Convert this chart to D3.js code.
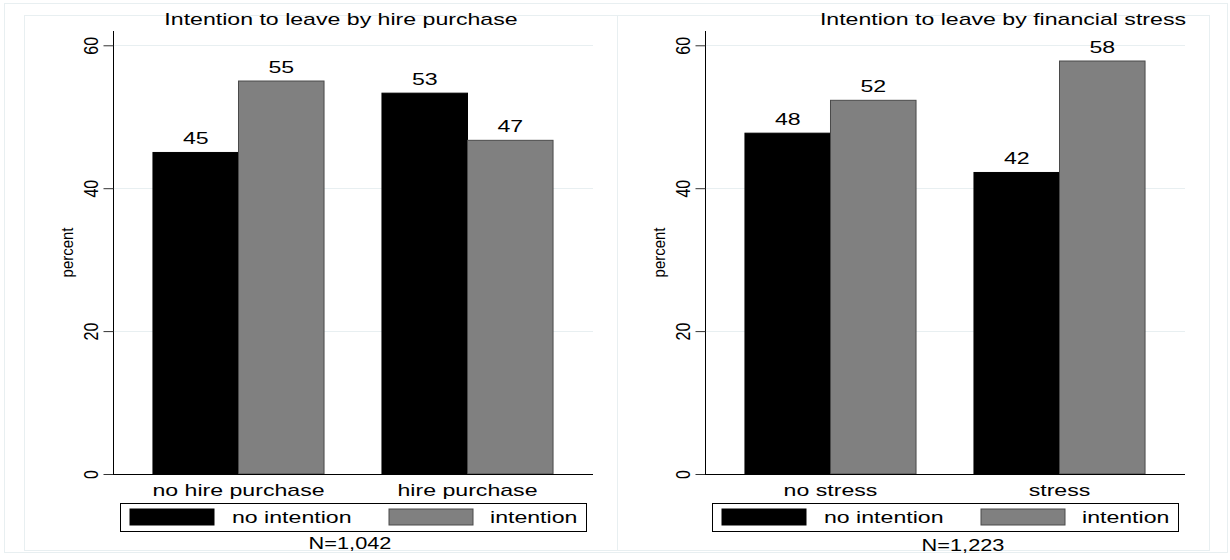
<!DOCTYPE html>
<html><head><meta charset="utf-8">
<script src="https://cdn.jsdelivr.net/npm/d3@7"></script>
<style>
html,body{margin:0;padding:0;background:#fff;}
text{font-family:"Liberation Sans",Arial,sans-serif;}
</style></head>
<body><svg id="chart" width="1230" height="560"></svg>
<script>
// ---- data ----
const panelTitles = ["Intention to leave by hire purchase", "Intention to leave by financial stress"];
const hireCategories = ["no hire purchase", "hire purchase"];
const stressCategories = ["no stress", "stress"];
const seriesNames = ["no intention", "intention"];
const hireNoIntention = [45.0, 53.3];
const hireIntention = [55.0, 46.7];
const stressNoIntention = [47.7, 42.2];
const stressIntention = [52.3, 57.8];
const yTicks = [0, 20, 40, 60];
const yLabel = "percent";
const sampleNotes = ["N=1,042", "N=1,223"];

// ---- layout ----
const svg = d3.select("#chart");
const seriesColors = ["#000000", "#808080"];
const seriesStroke = ["#000000", "#4a4a4a"];
const gridColor = "#e8eff1";
const SX = 1.36; // horizontal stretch of the reference's text

function place(sel, x, yy, extra) {
  return sel.attr("transform", `translate(${x},${yy})${extra || ""} scale(${SX},1)`);
}

svg.append("rect").attr("x", 4.5).attr("y", 3.5).attr("width", 1223).attr("height", 549)
  .attr("fill", "none").attr("stroke", gridColor);

const panels = [
  {title: panelTitles[0], cats: hireCategories, vals: [hireNoIntention, hireIntention], note: sampleNotes[0],
   px: 24, pw: 593, plotX: 113, titleX: 341, titleAnchor: "middle", noteX: 350, noteY: 549, legX: 120},
  {title: panelTitles[1], cats: stressCategories, vals: [stressNoIntention, stressIntention], note: sampleNotes[1],
   px: 617, pw: 592, plotX: 705, titleX: 1186, titleAnchor: "end", noteX: 963, noteY: 551, legX: 712}
];

const plotTop = 31, plotBottom = 474, plotW = 480;
const y = d3.scaleLinear().domain([0, 62]).range([plotBottom, plotTop]);

panels.forEach(p => {
  const g = svg.append("g");
  g.append("rect").attr("x", p.px + 0.5).attr("y", 15.5).attr("width", p.pw).attr("height", 535)
    .attr("fill", "#fff").attr("stroke", gridColor);

  // gridlines
  g.selectAll(".grid").data(yTicks.filter(t => t > 0)).enter().append("line")
    .attr("x1", p.plotX).attr("x2", p.plotX + plotW)
    .attr("y1", d => Math.round(y(d)) + 0.5).attr("y2", d => Math.round(y(d)) + 0.5)
    .attr("stroke", gridColor).attr("stroke-width", 1);

  const x0 = d3.scaleBand().domain(p.cats).range([p.plotX, p.plotX + plotW])
    .paddingInner(0.253).paddingOuter(0.1745);
  const x1 = d3.scaleBand().domain(seriesNames).range([0, x0.bandwidth()]).padding(0);

  const rows = [];
  p.cats.forEach((c, i) => seriesNames.forEach((s, j) => rows.push({cat: c, s: s, j: j, v: p.vals[j][i]})));

  g.selectAll(".bar").data(rows).enter().append("rect")
    .attr("x", d => x0(d.cat) + x1(d.s))
    .attr("y", d => y(d.v))
    .attr("width", x1.bandwidth())
    .attr("height", d => y(0) - y(d.v))
    .attr("fill", d => seriesColors[d.j])
    .attr("stroke", d => seriesStroke[d.j]).attr("stroke-width", 1);

  g.selectAll(".val").data(rows).enter().append("text")
    .each(function(d) {
      place(d3.select(this), x0(d.cat) + x1(d.s) + x1.bandwidth() / 2, y(d.v) - 8);
    })
    .attr("text-anchor", "middle").attr("font-size", 17).attr("fill", "#000")
    .text(d => d3.format(".0f")(d.v));

  // y axis
  const yAxis = d3.axisLeft(y).tickValues(yTicks).tickSize(10).tickFormat(d3.format("d"));
  const ax = g.append("g").attr("transform", `translate(${p.plotX + 0.5},0)`).call(yAxis);
  ax.select(".domain").attr("d", `M0,${plotTop}V${plotBottom}`).attr("stroke", "#000");
  ax.selectAll(".tick line").attr("stroke", "#333");
  ax.selectAll(".tick text").attr("font-size", 16).attr("font-family", "Liberation Sans, Arial, sans-serif")
    .attr("fill", "#000")
    .attr("x", 0).attr("y", 0).attr("dy", "0").attr("text-anchor", "middle")
    .attr("transform", "translate(-16,0) rotate(-90) scale(1,1.25)");

  // baseline
  g.append("line").attr("x1", p.plotX).attr("x2", p.plotX + plotW)
    .attr("y1", plotBottom + 0.5).attr("y2", plotBottom + 0.5).attr("stroke", "#000");

  g.append("text").attr("transform", `translate(${p.plotX - 40},${(plotTop + plotBottom) / 2}) rotate(-90) scale(1.15,1.2)`)
    .attr("text-anchor", "middle").attr("font-size", 13).text(yLabel);

  // category labels
  g.selectAll(".cat").data(p.cats).enter().append("text")
    .each(function(d) { place(d3.select(this), x0(d) + x0.bandwidth() / 2, 496); })
    .attr("text-anchor", "middle").attr("font-size", 17).text(d => d);

  // title
  place(g.append("text"), p.titleX, 25).attr("text-anchor", p.titleAnchor)
    .attr("font-size", 17).text(p.title);

  // legend
  const leg = g.append("g");
  leg.append("rect").attr("x", p.legX + 0.5).attr("y", 503.5).attr("width", 466).attr("height", 28)
    .attr("fill", "#fff").attr("stroke", "#000");
  const legItems = [{sx: 10, tx: 112}, {sx: 269, tx: 370}];
  seriesNames.forEach((s, j) => {
    leg.append("rect").attr("x", p.legX + legItems[j].sx).attr("y", 509).attr("width", 84).attr("height", 16)
      .attr("fill", seriesColors[j]).attr("stroke", seriesStroke[j]);
    place(leg.append("text"), p.legX + legItems[j].tx, 523).attr("font-size", 17).text(s);
  });

  place(g.append("text"), p.noteX, p.noteY).attr("text-anchor", "middle").attr("font-size", 16).text(p.note);
});
</script></body></html>
